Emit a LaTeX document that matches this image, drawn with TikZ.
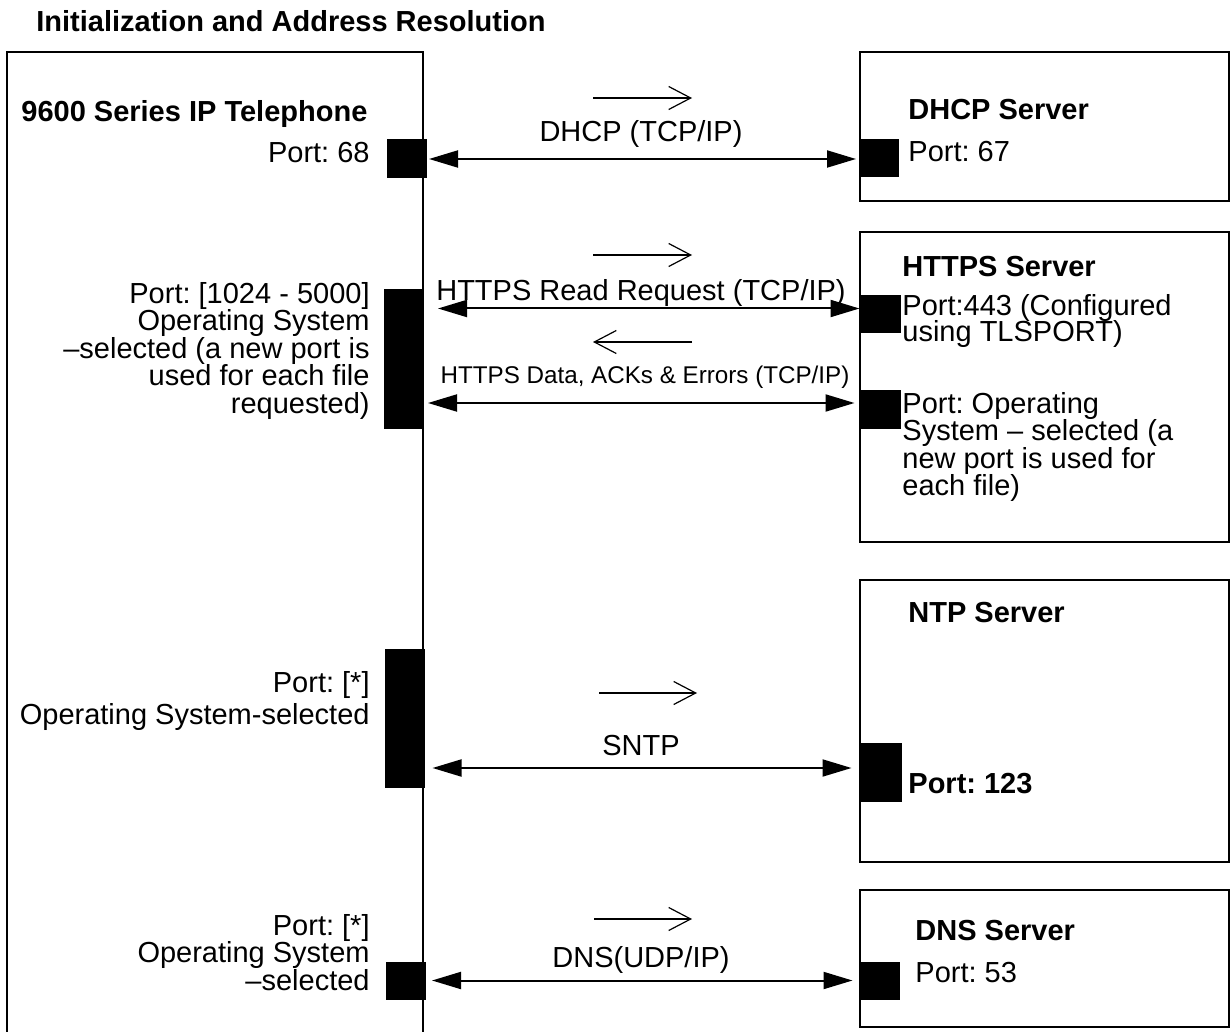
\documentclass[tikz,border=0pt]{standalone}
\usepackage{fontspec}
\setmainfont{Liberation Sans}
\usetikzlibrary{arrows.meta}
\lineskiplimit=-20pt
\frenchspacing

\tikzset{
  lbl/.style={inner sep=0pt, font=\fontsize{14.5}{13.7}\selectfont},
  hdr/.style={inner sep=0pt, font=\fontsize{14.5}{13.7}\selectfont\bfseries},
  smalllbl/.style={inner sep=0pt, font=\fontsize{12.1}{13}\selectfont},
  port/.style={fill=black, draw=black, line width=0.5pt, inner sep=0pt, minimum width=19.5pt},
  link/.style={line width=1pt, {Triangle[length=14.5pt,width=8.5pt]}-{Triangle[length=14.5pt,width=8.5pt]}},
  dir/.style={line width=0.6pt, -{Straight Barb[length=11pt,width=11.5pt]}},
  frame/.style={line width=1pt}
}

\begin{document}
\begin{tikzpicture}[x=0.5pt, y=-0.5pt]
            \useasboundingbox (0,0) rectangle (1232,1032);

            % boxes
            \draw[frame] (7,1040) -- (7,52) -- (423,52) -- (423,1040);
            \draw[frame] (860,52) rectangle (1229,201);
            \draw[frame] (860,232) rectangle (1229,542);
            \draw[frame] (860,580) rectangle (1229,862);
            \draw[frame] (860,890) rectangle (1229,1027);

            \node[hdr, anchor=base west] (title) at (36,32) {Initialization and Address Resolution};

            % telephone side
            \node[hdr, anchor=base west] (phone) at (21,122) {9600 Series IP Telephone};
            \node[lbl, anchor=base east] (lp68) at (370,163) {Port: 68};
            \node[lbl, anchor=north east, align=right] (lphttps) at (370,282) {Port: [1024 - 5000]\\Operating System\\–selected (a new port is\\used for each file\\requested)};
            \node[lbl, anchor=north east, align=right] (lpntp) at (370,671) {Port: [*]\\[2.2pt]Operating System-selected};
            \node[lbl, anchor=north east, align=right] (lpdns) at (370,914) {Port: [*]\\Operating System\\–selected};

            \node[port, minimum height=19pt] (pdhcp) at (407,159) {};
            \node[port, minimum height=69pt] (phttps) at (404,359) {};
            \node[port, minimum height=69pt] (pntp) at (404.5,718) {};
            \node[port, minimum height=18.5pt] (pdns) at (406,980.5) {};

            % servers
            \node[hdr, anchor=base west] (dhcp) at (908,120) {DHCP Server};
            \node[lbl, anchor=base west] (l67) at (908,162) {Port: 67};
            \node[hdr, anchor=base west] (https) at (902,277) {HTTPS Server};
            \node[lbl, anchor=north west, align=left, font=\fontsize{14.5}{13.2}\selectfont] (l443) at (902,294) {Port:443 (Configured\\using TLSPORT)};
            \node[lbl, anchor=north west, align=left] (lhsel) at (902,392) {Port: Operating\\System – selected (a\\new port is used for\\each file)};
            \node[hdr, anchor=base west] (ntp) at (908,622) {NTP Server};
            \node[hdr, anchor=base west] (l123) at (908,793) {Port: 123};
            \node[hdr, anchor=base west] (dns) at (915,940) {DNS Server};
            \node[lbl, anchor=base west] (l53) at (915,982) {Port: 53};

            \node[port, minimum height=18.5pt] (sdhcp) at (879,158.5) {};
            \node[port, minimum height=18.5pt, minimum width=20pt] (sreq) at (880,314.5) {};
            \node[port, minimum height=19pt, minimum width=20pt] (sdata) at (880,409) {};
            \node[port, minimum height=29pt, minimum width=20.5pt] (sntp) at (880.5,772) {};
            \node[port, minimum height=18.5pt] (sdns) at (879.5,980.5) {};

            % messages
            \node[lbl, anchor=base] (mdhcp) at (641,142) {DHCP (TCP/IP)};
            \node[lbl, anchor=base] (mreq) at (641,300) {HTTPS Read Request (TCP/IP)};
            \node[smalllbl, anchor=base] (mdata) at (645,383) {HTTPS Data, ACKs \& Errors (TCP/IP)};
            \node[lbl, anchor=base] (msntp) at (641,755) {SNTP};
            \node[lbl, anchor=base] (mdns) at (641,967) {DNS(UDP/IP)};

            \coordinate (req) at ([yshift=3pt]sreq.west);
            \coordinate (data) at ([yshift=3pt]sdata.west);
            \coordinate (time) at ([yshift=2pt]sntp.west);

            \draw[link, shorten <=1pt, shorten >=1.5pt] (pdhcp.east) -- (pdhcp.east -| sdhcp.west);
            \draw[link, shorten <=7pt] (phttps.east |- req) -- (req);
            \draw[link, shorten <=2pt, shorten >=2.5pt] (phttps.east |- data) -- (data);
            \draw[link, shorten <=4pt, shorten >=4pt] (pntp.east |- time) -- (time);
            \draw[link, shorten <=3pt, shorten >=3.5pt] (pdns.east) -- (pdns.east -| sdns.west);

            % direction marks
            \foreach \y/\a/\b in {98/593/692, 255/593/692, 342/692/593, 693/599/697, 919/594/692}
                \draw[dir] (\a,\y) -- (\b,\y);
        \end{tikzpicture}
\end{document}
